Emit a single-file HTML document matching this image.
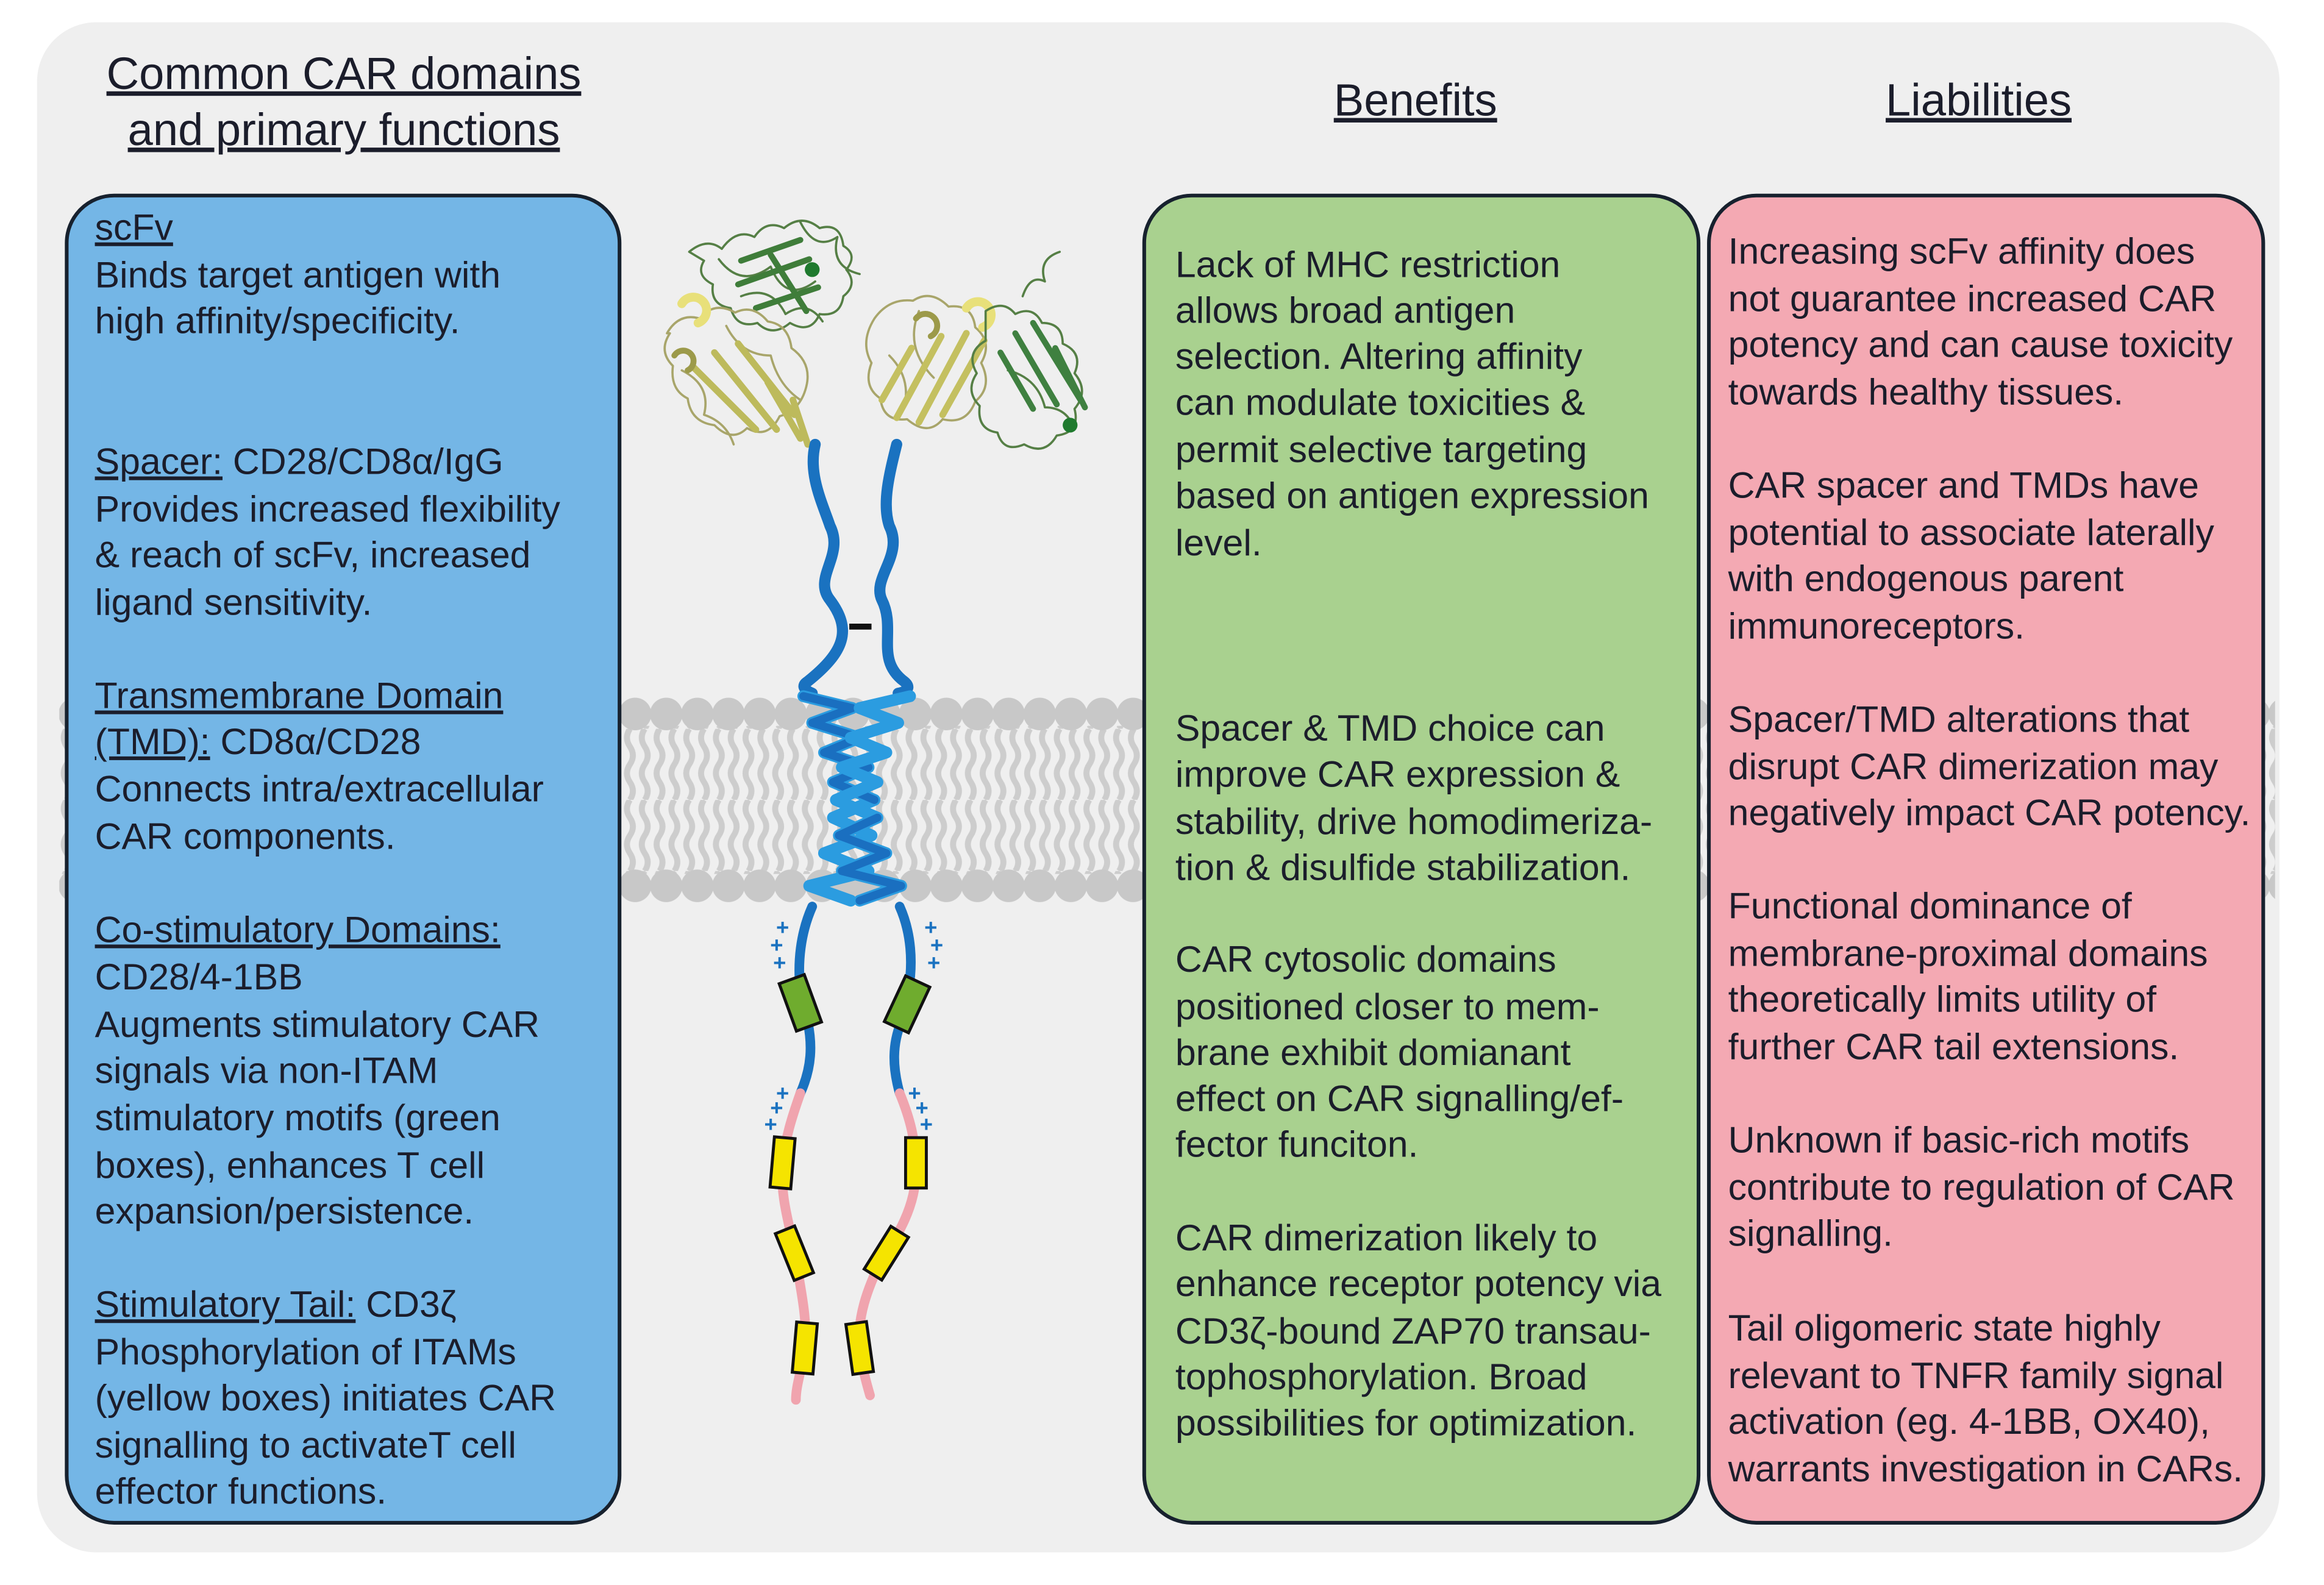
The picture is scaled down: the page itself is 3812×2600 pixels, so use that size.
<!DOCTYPE html>
<html><head><meta charset="utf-8"><style>
html,body{margin:0;padding:0;background:#fff;}
svg{display:block;}
text{font-family:"Liberation Sans",Arial,sans-serif;fill:#1b1d2b;}
.h{font-size:30.5px;text-decoration:underline;}
.b{font-size:25px;}
</style></head><body>
<svg width="3812" height="2600" viewBox="0 0 1568 1070" preserveAspectRatio="none" xmlns="http://www.w3.org/2000/svg">
<defs>
<pattern id="tails" x="0" y="492" width="10" height="48" patternUnits="userSpaceOnUse">
<path d="M5 0 q-4 6 0 12 q4 6 0 12 q-4 6 0 12 q4 6 0 12" fill="none" stroke="#cdcdcd" stroke-width="4"/>
</pattern>
<pattern id="heads1" x="40" y="471" width="21" height="22" patternUnits="userSpaceOnUse">
<circle cx="10.5" cy="11" r="11" fill="#c8c8c8"/>
</pattern>
<pattern id="heads2" x="40" y="587" width="21" height="22" patternUnits="userSpaceOnUse">
<circle cx="10.5" cy="11" r="11" fill="#c8c8c8"/>
</pattern>
</defs>
<rect x="0" y="0" width="1568" height="1070" fill="#fff"/>
<rect x="25" y="15" width="1513" height="1033" rx="40" fill="#efefef"/>
<!-- membrane -->
<rect x="40" y="490" width="1495" height="100" fill="url(#tails)"/>
<rect x="40" y="471" width="1495" height="22" fill="url(#heads1)"/>
<rect x="40" y="587" width="1495" height="22" fill="url(#heads2)"/>

<!-- boxes -->
<rect x="45" y="132" width="373" height="896" rx="32" fill="#74b6e6" stroke="#17212e" stroke-width="2.5"/>
<rect x="772" y="132" width="374" height="896" rx="32" fill="#a9d18f" stroke="#17212e" stroke-width="2.5"/>
<rect x="1153" y="132" width="374" height="896" rx="32" fill="#f4a9b3" stroke="#17212e" stroke-width="2.5"/>

<!-- headings -->
<text class="h" x="232" y="60" text-anchor="middle">Common CAR domains</text>
<text class="h" x="232" y="98" text-anchor="middle">and primary functions</text>
<text class="h" x="955" y="78" text-anchor="middle">Benefits</text>
<text class="h" x="1335" y="78" text-anchor="middle">Liabilities</text>

<!-- blue text -->
<text class="b" x="64" y="162"><tspan text-decoration="underline">scFv</tspan></text>
<text class="b" x="64" y="194">Binds target antigen with</text>
<text class="b" x="64" y="225">high affinity/specificity.</text>
<text class="b" x="64" y="320"><tspan text-decoration="underline">Spacer:</tspan> CD28/CD8α/IgG</text>
<text class="b" x="64" y="352">Provides increased flexibility</text>
<text class="b" x="64" y="383">&amp; reach of scFv, increased</text>
<text class="b" x="64" y="415">ligand sensitivity.</text>
<text class="b" x="64" y="478"><tspan text-decoration="underline">Transmembrane Domain</tspan></text>
<text class="b" x="64" y="509"><tspan text-decoration="underline">(TMD):</tspan> CD8α/CD28</text>
<text class="b" x="64" y="541">Connects intra/extracellular</text>
<text class="b" x="64" y="573">CAR components.</text>
<text class="b" x="64" y="636"><tspan text-decoration="underline">Co-stimulatory Domains:</tspan></text>
<text class="b" x="64" y="668">CD28/4-1BB</text>
<text class="b" x="64" y="700">Augments stimulatory CAR</text>
<text class="b" x="64" y="731">signals via non-ITAM</text>
<text class="b" x="64" y="763">stimulatory motifs (green</text>
<text class="b" x="64" y="795">boxes), enhances T cell</text>
<text class="b" x="64" y="826">expansion/persistence.</text>
<text class="b" x="64" y="889"><tspan text-decoration="underline">Stimulatory Tail:</tspan> CD3ζ</text>
<text class="b" x="64" y="921">Phosphorylation of ITAMs</text>
<text class="b" x="64" y="952">(yellow boxes) initiates CAR</text>
<text class="b" x="64" y="984">signalling to activateT cell</text>
<text class="b" x="64" y="1015">effector functions.</text>

<!-- green text -->
<text class="b" x="793" y="187">Lack of MHC restriction</text>
<text class="b" x="793" y="218">allows broad antigen</text>
<text class="b" x="793" y="249">selection. Altering affinity</text>
<text class="b" x="793" y="280">can modulate toxicities &amp;</text>
<text class="b" x="793" y="312">permit selective targeting</text>
<text class="b" x="793" y="343">based on antigen expression</text>
<text class="b" x="793" y="375">level.</text>
<text class="b" x="793" y="500">Spacer &amp; TMD choice can</text>
<text class="b" x="793" y="531">improve CAR expression &amp;</text>
<text class="b" x="793" y="563">stability, drive homodimeriza-</text>
<text class="b" x="793" y="594">tion &amp; disulfide stabilization.</text>
<text class="b" x="793" y="656">CAR cytosolic domains</text>
<text class="b" x="793" y="688">positioned closer to mem-</text>
<text class="b" x="793" y="719">brane exhibit domianant</text>
<text class="b" x="793" y="750">effect on CAR signalling/ef-</text>
<text class="b" x="793" y="781">fector funciton.</text>
<text class="b" x="793" y="844">CAR dimerization likely to</text>
<text class="b" x="793" y="875">enhance receptor potency via</text>
<text class="b" x="793" y="907">CD3ζ-bound ZAP70 transau-</text>
<text class="b" x="793" y="938">tophosphorylation. Broad</text>
<text class="b" x="793" y="969">possibilities for optimization.</text>

<!-- pink text -->
<text class="b" x="1166" y="178">Increasing scFv affinity does</text>
<text class="b" x="1166" y="210">not guarantee increased CAR</text>
<text class="b" x="1166" y="241">potency and can cause toxicity</text>
<text class="b" x="1166" y="273">towards healthy tissues.</text>
<text class="b" x="1166" y="336">CAR spacer and TMDs have</text>
<text class="b" x="1166" y="368">potential to associate laterally</text>
<text class="b" x="1166" y="399">with endogenous parent</text>
<text class="b" x="1166" y="431">immunoreceptors.</text>
<text class="b" x="1166" y="494">Spacer/TMD alterations that</text>
<text class="b" x="1166" y="526">disrupt CAR dimerization may</text>
<text class="b" x="1166" y="557">negatively impact CAR potency.</text>
<text class="b" x="1166" y="620">Functional dominance of</text>
<text class="b" x="1166" y="652">membrane-proximal domains</text>
<text class="b" x="1166" y="683">theoretically limits utility of</text>
<text class="b" x="1166" y="715">further CAR tail extensions.</text>
<text class="b" x="1166" y="778">Unknown if basic-rich motifs</text>
<text class="b" x="1166" y="810">contribute to regulation of CAR</text>
<text class="b" x="1166" y="841">signalling.</text>
<text class="b" x="1166" y="905">Tail oligomeric state highly</text>
<text class="b" x="1166" y="937">relevant to TNFR family signal</text>
<text class="b" x="1166" y="968">activation (eg. 4-1BB, OX40),</text>
<text class="b" x="1166" y="1000">warrants investigation in CARs.</text>

<!-- scFv proteins -->
<g fill="none" stroke-linecap="round" stroke-linejoin="round">
<!-- left green -->
<g stroke="#557f45" stroke-width="1.5">
<path d="M465 170 q12-10 22-2 q10-14 22-8 q8-12 20-6 q12-10 24 0 q14-4 16 12 q10 6 2 16 q8 10-2 18 q-2 14-16 12 q-6 14-20 6 q-12 10-22 0 q-14 4-18-10 q-14-2-12-16 q-12-6-6-16z"/>
<path d="M485 175 q15 20 35 5 q10 25 30 10 M500 200 q20-8 30 12 q15-10 25 5"/>
<path d="M540 150 q10 20 25 10 q-5 20 15 25"/>
</g>
<path d="M500 176 l40 -14 M498 192 l48 -17 M510 208 l42 -14 M520 172 l24 38" stroke="#3f7d3a" stroke-width="4"/>
<circle cx="548" cy="182" r="5" fill="#1f7a2e" stroke="none"/>
<!-- left yellow -->
<g stroke="#a8a56a" stroke-width="1.5">
<path d="M450 225 q8-14 22-10 q10-12 24-4 q12-6 22 6 q14 2 16 18 q14 10 10 26 q-4 16-18 20 q-8 16-22 8 q-10 10-22-2 q-16-2-18-18 q-12-6-10-22 q-10-10-2-22z"/>
<path d="M460 250 q20 10 15 30 q15 5 20 20 M490 220 q10 20 30 20 q5 20 20 30"/>
</g>
<path d="M468 248 l42 42 M482 238 l42 52 M498 232 l38 48 M518 258 l22 38 M535 270 l10 30" stroke="#bdba5c" stroke-width="4.5"/>
<path d="M460 205 a9 9 0 1 1 11 13" stroke="#e8e07a" stroke-width="6"/>
<path d="M455 240 a7 7 0 1 1 9 10" stroke="#9c9a4a" stroke-width="4"/>
<!-- right yellow -->
<g stroke="#a8a56a" stroke-width="1.5">
<path d="M590 215 q10-14 26-12 q12-8 24 4 q16-2 18 14 q12 10 4 24 q8 16-4 26 q-6 16-22 12 q-10 12-24 0 q-16 2-18-14 q-12-8-6-24 q-8-14 2-30z"/>
<path d="M600 240 q15 15 10 35 M620 210 q-10 25 10 45"/>
</g>
<path d="M605 282 l30 -55 M620 285 l32 -60 M636 280 l28 -50 M595 270 l20 -35" stroke="#c4c060" stroke-width="4.5"/>
<path d="M618 215 a8 8 0 1 1 10 12" stroke="#9c9a4a" stroke-width="4"/>
<path d="M652 208 a9 9 0 1 1 11 13" stroke="#e8e07a" stroke-width="6"/>
<!-- right green -->
<g stroke="#557f45" stroke-width="1.5">
<path d="M665 210 q12-8 20 2 q12-6 18 6 q14 0 14 14 q14 6 8 20 q10 12 0 24 q4 16-12 18 q-8 14-22 6 q-14 6-18-8 q-14-2-12-18 q-10-10-2-22 q-8-14 6-22z"/>
<path d="M690 200 q5-15 15-10 q-5-15 10-20 M680 250 q20 5 25 25 q15 0 20 15"/>
</g>
<path d="M685 225 l28 48 M697 218 l32 52 M675 238 l22 38 M712 235 l20 40" stroke="#3f8040" stroke-width="4"/>
<circle cx="722" cy="287" r="5" fill="#1f7a2e" stroke="none"/>
</g>

<!-- extracellular stalk -->
<g fill="none" stroke="#1a72c0" stroke-width="7.5" stroke-linecap="round">
<path d="M550 300 C545 320, 555 340, 560 355 C570 375, 548 390, 560 405 C575 425, 570 440, 545 460 C540 463, 543 466, 548 468"/>
<path d="M605 300 C600 320, 595 340, 600 355 C610 375, 588 390, 595 405 C605 425, 590 445, 610 460 C615 464, 612 467, 606 468"/>
</g>
<line x1="573" y1="423" x2="588" y2="423" stroke="#111" stroke-width="4"/>

<!-- transmembrane helices -->
<g fill="none" stroke-width="8" stroke-linecap="round" stroke-linejoin="round">
<polyline points="542,470 575,478 548,488 580,498 556,508 586,518 562,528 590,540 562,552 588,564 556,576 586,588 546,598 574,608" stroke="#2b9ce0"/>
<polyline points="542,470 575,478 548,488 580,498 556,508 586,518 562,528 590,540" stroke="#1a6fc0" stroke-width="5.5"/>
<polyline points="614,470 580,478 606,488 574,498 598,508 568,518 592,528 564,540 592,552 566,564 598,576 568,588 608,598 580,608" stroke="#2b9ce0"/>
<polyline points="592,552 566,564 598,576 568,588 608,598 580,608" stroke="#1a6fc0" stroke-width="5.5"/>
</g>

<!-- intracellular tails -->
<g fill="none" stroke-width="6.5" stroke-linecap="round">
<path d="M548 612 C540 630, 538 650, 540 668" stroke="#1a72c0"/>
<path d="M545 690 C548 705, 548 720, 540 738" stroke="#1a72c0"/>
<path d="M540 738 C534 755, 530 768, 528 785 C526 810, 534 830, 537 850 C540 870, 545 890, 543 910 C541 925, 537 935, 537 945" stroke="#f0a4ae"/>
<path d="M607 612 C615 630, 616 650, 613 668" stroke="#1a72c0"/>
<path d="M608 690 C602 705, 602 720, 607 738" stroke="#1a72c0"/>
<path d="M607 738 C614 755, 618 770, 618 790 C618 815, 605 835, 595 850 C585 870, 578 890, 580 910 C582 925, 585 935, 587 942" stroke="#f0a4ae"/>
</g>
<rect x="-9" y="-17" width="18" height="34" fill="#6fac2e" stroke="#111" stroke-width="2" transform="translate(540,677) rotate(-20)"/>
<rect x="-9" y="-17" width="18" height="34" fill="#6fac2e" stroke="#111" stroke-width="2" transform="translate(612,678) rotate(25)"/>
<g fill="#f5e400" stroke="#111" stroke-width="2">
<rect x="-7" y="-17" width="14" height="34" transform="translate(528,785) rotate(5)"/>
<rect x="-7" y="-17" width="14" height="34" transform="translate(536,846) rotate(-22)"/>
<rect x="-7" y="-17" width="14" height="34" transform="translate(543,910) rotate(5)"/>
<rect x="-7" y="-17" width="14" height="34" transform="translate(618,785) rotate(0)"/>
<rect x="-7" y="-17" width="14" height="34" transform="translate(598,846) rotate(32)"/>
<rect x="-7" y="-17" width="14" height="34" transform="translate(580,910) rotate(-8)"/>
</g>
<g font-family="Liberation Sans, sans-serif" font-weight="bold" font-size="15" text-anchor="middle">
<text x="528" y="631" style="fill:#1a72c0">+</text><text x="524" y="643" style="fill:#1a72c0">+</text><text x="526" y="655" style="fill:#1a72c0">+</text>
<text x="628" y="631" style="fill:#1a72c0">+</text><text x="632" y="643" style="fill:#1a72c0">+</text><text x="630" y="655" style="fill:#1a72c0">+</text>
<text x="528" y="743" style="fill:#1a72c0">+</text><text x="524" y="753" style="fill:#1a72c0">+</text><text x="520" y="764" style="fill:#1a72c0">+</text>
<text x="617" y="743" style="fill:#1a72c0">+</text><text x="622" y="753" style="fill:#1a72c0">+</text><text x="625" y="764" style="fill:#1a72c0">+</text>
</g>
</svg>
</body></html>
